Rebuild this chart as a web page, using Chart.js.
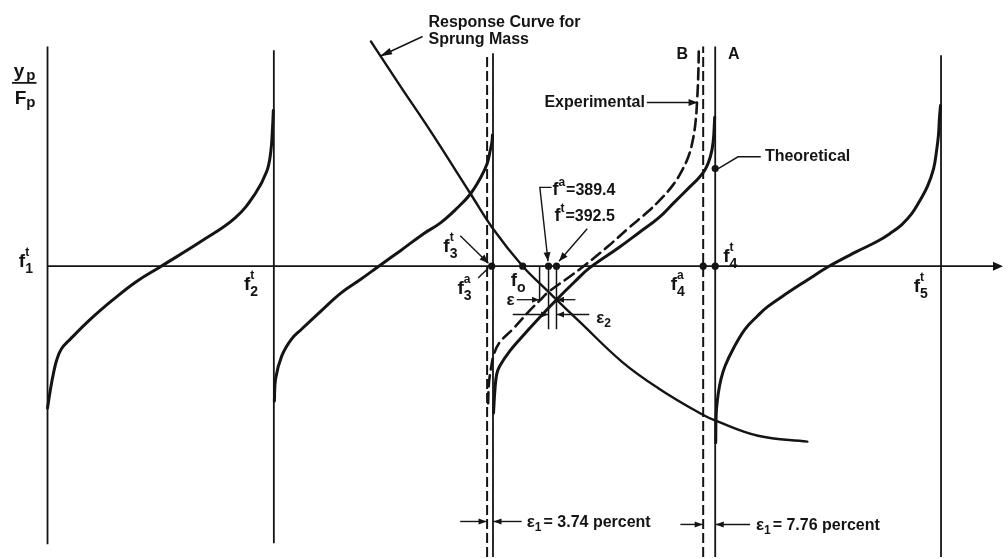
<!DOCTYPE html>
<html>
<head>
<meta charset="utf-8">
<script src="https://cdn.jsdelivr.net/npm/chart.js@4/dist/chart.umd.min.js"></script>
<style>
  html, body { margin: 0; padding: 0; background: #fff; }
  #wrap { width: 1008px; height: 559px; }
</style>
</head>
<body>
<div id="wrap"><canvas id="chart"></canvas></div>
<script>
var INK = '#141414';
var FONT = '"Liberation Sans", Arial, sans-serif';

// frequencies where the sprung-mass curve meets the two mode curves (Hz)
var fActual = 389.4;
var fTheory = 392.5;
var eps1Percent = [3.74, 7.76];

// response curves, [frequency Hz, y_p/F_p]
var mode1 = [[193.7,-2.88],[194.9,-2.48],[196.0,-2.18],[197.2,-1.92],[199.1,-1.68],[202.6,-1.48],[210.4,-1.08],[219.3,-0.68],[228.2,-0.32],[237.5,-0.02],[254.2,0.52],[267.0,0.98],[274.7,1.46],[279.3,1.92],[280.9,2.32],[281.6,2.82],[281.9,3.16]];
var mode2 = [[282.3,-2.74],[282.8,-2.28],[285.2,-1.82],[289.0,-1.48],[292.9,-1.28],[300.7,-0.9],[308.4,-0.54],[316.2,-0.26],[323.1,0],[331.7,0.32],[340.6,0.66],[347.2,0.88],[353.7,1.18],[358.8,1.46],[362.7,1.78],[365.4,2.08],[366.5,2.32],[367.3,2.52],[367.5,2.66]];
var theoretical = [[367.9,-2.98],[368.5,-2.48],[369.2,-2.18],[370.4,-2.02],[374.3,-1.72],[378.2,-1.48],[385.9,-1.04],[fTheory,-0.68],[399.5,-0.32],[405.3,-0.04],[416.9,0.38],[424.7,0.68],[432.4,0.98],[438.2,1.28],[444.0,1.58],[447.9,1.78],[450.6,1.96],[452.6,2.22],[453.7,2.52],[454.3,3.02]];
var experimental = [[365.8,-2.78],[366.1,-2.38],[366.9,-2.08],[368.1,-1.78],[370.4,-1.54],[375.4,-1.28],[382.0,-0.9],[385.9,-0.7],[fActual,-0.52],[396.4,-0.26],[404.1,0.04],[413.0,0.42],[420.8,0.78],[428.5,1.12],[433.6,1.38],[438.2,1.66],[441.3,1.92],[444.0,2.22],[445.6,2.52],[446.8,2.92],[447.5,3.42],[447.9,3.92],[448.1,4.42]];
var mode5 = [[454.7,-3.58],[454.9,-2.98],[455.7,-2.58],[456.8,-2.28],[458.4,-2.02],[461.5,-1.68],[466.1,-1.28],[471.2,-1.0],[475.0,-0.82],[482.8,-0.54],[490.5,-0.28],[498.3,-0.02],[509.9,0.3],[517.7,0.5],[522.7,0.66],[527.3,0.84],[531.2,1.06],[534.3,1.32],[537.4,1.62],[539.8,1.98],[540.9,2.32],[541.7,2.66],[542.1,3.02],[542.5,3.26]];
var sprungMass = [[320.0,4.56],[331.7,3.64],[343.3,2.74],[358.8,1.48],[367.7,0.76],[379.3,0],[fActual,-0.52],[fTheory,-0.68],[401.4,-1.12],[418.1,-1.94],[432.4,-2.48],[449.1,-3.0],[454.9,-3.14],[471.2,-3.44],[490.5,-3.56]];

// resonance lines f1..f5 (solid = theoretical, dashed = measured)
var solidLineX = [193.7, 282.1, 367.7, 454.5, 542.7];
var solidLineTop = [4.46, 4.38, 4.32, 4.46, 4.28];
var solidLineBottom = [-5.64, -5.62, -5.9, -5.9, -5.9];
var dashedLineX = [365.4, 449.8];
var dashedLineTop = [4.32, 4.46];

// drop lines below the crossing, and dots on the frequency axis
var dropX = [385.9, fActual, fTheory];
var dropDepth = [-0.7, -1.28, -1.28];
var axisDots = [367.2, 379.3, fActual, fTheory, 449.8, 454.5];
var axisStart = 193.7, axisEnd = 564.5;

function pts(list) {
	return list.map(function(p) { return {x: p[0], y: p[1]}; });
}

function curve(list, width, dash) {
	return {data: pts(list), showLine: true, borderColor: INK, borderWidth: width, borderDash: dash || [],
		pointRadius: 0, tension: 0.4, fill: false, clip: false, borderCapStyle: 'round', borderJoinStyle: 'round'};
}

function segment(x1, y1, x2, y2, width, dash) {
	return {data: [{x: x1, y: y1}, {x: x2, y: y2}], showLine: true, borderColor: INK, borderWidth: width,
		borderDash: dash || [], pointRadius: 0, tension: 0, fill: false, clip: false};
}

var datasets = [];
datasets.push(segment(axisStart, 0, axisEnd, 0, 1.8));
solidLineX.forEach(function(x, i) {
	datasets.push(segment(x, solidLineBottom[i], x, solidLineTop[i], 1.8));
});
dashedLineX.forEach(function(x, i) {
	datasets.push(segment(x, -5.9, x, dashedLineTop[i], 2, [10, 4]));
});
dropX.forEach(function(x, i) {
	datasets.push(segment(x, 0, x, dropDepth[i], 1.5));
});
datasets.push(curve(mode1, 3));
datasets.push(curve(mode2, 3));
datasets.push(curve(theoretical, 3));
datasets.push(curve(mode5, 3));
datasets.push(curve(experimental, 2.6, [11, 6]));
datasets.push(curve(sprungMass, 2.4));
datasets.push({data: axisDots.map(function(x) { return {x: x, y: 0}; }).concat([{x: 454.5, y: 1.98}]),
	showLine: false, pointRadius: 3.6, pointBackgroundColor: INK, pointBorderWidth: 0});

// drawing helpers, all in canvas pixels
function head(ctx, x1, y1, x2, y2, len, half) {
	var a = Math.atan2(y2 - y1, x2 - x1);
	ctx.beginPath();
	ctx.moveTo(x2, y2);
	ctx.lineTo(x2 - len * Math.cos(a) + half * Math.sin(a), y2 - len * Math.sin(a) - half * Math.cos(a));
	ctx.lineTo(x2 - len * Math.cos(a) - half * Math.sin(a), y2 - len * Math.sin(a) + half * Math.cos(a));
	ctx.closePath();
	ctx.fill();
}

function fLabel(ctx, x, y, sup, sub) {
	ctx.textBaseline = 'alphabetic';
	ctx.font = 'bold 19px ' + FONT;
	ctx.fillText('f', x, y);
	var w = ctx.measureText('f').width;
	if (sup) {
		ctx.font = 'bold 12px ' + FONT;
		ctx.fillText(sup, x + w, y - 11);
	}
	if (sub) {
		ctx.font = 'bold 14px ' + FONT;
		ctx.fillText(sub, x + w, y + 6);
	}
}

function epsLabel(ctx, x, y, sub, rest) {
	ctx.textBaseline = 'alphabetic';
	ctx.font = 'bold 17px ' + FONT;
	ctx.fillText('\u03b5', x, y);
	var w = ctx.measureText('\u03b5').width;
	ctx.font = 'bold 12px ' + FONT;
	if (sub) ctx.fillText(sub, x + w, y + 4);
	var sw = sub ? ctx.measureText(sub).width : 0;
	if (rest) {
		ctx.font = 'bold 16px ' + FONT;
		ctx.fillText(rest, x + w + sw + 2, y);
	}
}

var annotations = {
	id: 'annotations',
	afterDatasetsDraw: function(chart) {
		var ctx = chart.ctx;
		var sx = function(v) { return chart.scales.x.getPixelForValue(v); };
		var sy = function(v) { return chart.scales.y.getPixelForValue(v); };

		function leader(list, arrow, width, len, half) {
			ctx.beginPath();
			ctx.lineWidth = width || 1.4;
			list.forEach(function(p, i) {
				if (i == 0) ctx.moveTo(sx(p[0]), sy(p[1]));
				else ctx.lineTo(sx(p[0]), sy(p[1]));
			});
			ctx.stroke();
			if (arrow) {
				var a = list[list.length - 2], b = list[list.length - 1];
				head(ctx, sx(a[0]), sy(a[1]), sx(b[0]), sy(b[1]), len || 9, half || 3.5);
			}
		}

		ctx.save();
		ctx.fillStyle = INK;
		ctx.strokeStyle = INK;
		ctx.setLineDash([]);

		// arrow on the frequency axis
		head(ctx, sx(axisEnd - 2), sy(0), sx(566.9), sy(0), 10, 4.5);

		// y_p / F_p
		ctx.textBaseline = 'alphabetic';
		ctx.font = 'bold 19px ' + FONT;
		ctx.fillText('y', sx(180.5), sy(3.84));
		ctx.fillText('F', sx(180.9), sy(3.30));
		ctx.font = 'bold 15px ' + FONT;
		ctx.fillText('p', sx(185.4), sy(3.78));
		ctx.fillText('p', sx(185.4), sy(3.24));
		leader([[179.8, 3.72], [189.4, 3.72]], false, 1.8);

		// frequency labels
		fLabel(ctx, sx(182.5), sy(-0.02), 't', '1');
		fLabel(ctx, sx(270.4), sy(-0.48), 't', '2');
		fLabel(ctx, sx(348.3), sy(0.28), 't', '3');
		fLabel(ctx, sx(353.8), sy(-0.56), 'a', '3');
		fLabel(ctx, sx(374.6), sy(-0.4), null, 'o');
		fLabel(ctx, sx(437.1), sy(-0.48), 'a', '4');
		fLabel(ctx, sx(457.6), sy(0.08), 't', '4');
		fLabel(ctx, sx(532.0), sy(-0.52), 't', '5');

		leader([[354.9, 0.62], [365.9, 0.06]], true, 1.4);
		leader([[361.9, -0.24], [365.8, -0.04]], false, 1.4);

		// f^a and f^t values
		[[fActual, 1.44, 'a'], [fTheory, 0.92, 't']].forEach(function(r, i) {
			var x = sx(i == 0 ? 390.9 : 391.7), y = sy(r[1]);
			ctx.textBaseline = 'alphabetic';
			ctx.font = 'bold 18px ' + FONT;
			ctx.fillText('f', x, y);
			var w = ctx.measureText('f').width;
			ctx.font = 'bold 12px ' + FONT;
			ctx.fillText(r[2], x + w, y - 9);
			var sw = ctx.measureText(r[2]).width;
			ctx.font = 'bold 16px ' + FONT;
			ctx.fillText('=' + r[0].toFixed(1), x + w + sw + 1, y);
		});
		leader([[390.6, 1.6], [386.0, 1.6], [fActual - 0.2, 0.1]], true, 1.4);
		leader([[404.5, 0.76], [fTheory + 1.0, 0.1]], true, 1.4);

		// epsilon marks round the crossing
		epsLabel(ctx, sx(373.0), sy(-0.78), null, null);
		leader([[377.0, -0.68], [385.7, -0.68]], true, 1.3, 7, 3);
		leader([[399.9, -0.68], [fTheory + 0.2, -0.68]], true, 1.3, 7, 3);
		leader([[375.4, -0.98], [fActual - 0.2, -0.98]], true, 1.3, 7, 3);
		leader([[405.3, -0.98], [fTheory + 0.2, -0.98]], true, 1.3, 7, 3);
		epsLabel(ctx, sx(408.0), sy(-1.16), '2', null);

		// curve names
		ctx.textBaseline = 'middle';
		ctx.font = 'bold 16px ' + FONT;
		ctx.fillText('Response Curve for', sx(342.5), sy(4.94));
		ctx.fillText('Sprung Mass', sx(342.5), sy(4.6));
		ctx.fillText('Experimental', sx(387.8), sy(3.32));
		ctx.fillText('Theoretical', sx(473.9), sy(2.22));
		ctx.fillText('B', sx(439.4), sy(4.3));
		ctx.fillText('A', sx(459.5), sy(4.3));
		leader([[340.2, 4.66], [323.6, 4.26]], true, 1.5, 12, 3.5);
		leader([[427.8, 3.32], [447.6, 3.32]], true, 1.4, 9, 3.5);
		leader([[472.3, 2.22], [463.4, 2.22], [455.7, 1.98]], false, 1.4);

		// spacing between measured and theoretical lines
		leader([[354.9, -5.18], [365.2, -5.18]], true, 1.4, 8, 3);
		leader([[378.9, -5.18], [367.9, -5.18]], true, 1.4, 8, 3);
		epsLabel(ctx, sx(380.9), sy(-5.3), '1', '= ' + eps1Percent[0].toFixed(2) + ' percent');
		leader([[440.9, -5.24], [449.6, -5.24]], true, 1.4, 8, 3);
		leader([[468.1, -5.24], [454.7, -5.24]], true, 1.4, 8, 3);
		epsLabel(ctx, sx(470.4), sy(-5.36), '1', '= ' + eps1Percent[1].toFixed(2) + ' percent');

		ctx.restore();
	}
};

var chart = new Chart(document.getElementById('chart'), {
	type: 'scatter',
	data: {datasets: datasets},
	options: {
		responsive: true,
		maintainAspectRatio: false,
		animation: false,
		devicePixelRatio: 1,
		events: [],
		layout: {padding: 0},
		plugins: {legend: {display: false}, tooltip: {enabled: false}},
		scales: {
			x: {type: 'linear', min: 176.7, max: 567.3, display: false},
			y: {type: 'linear', min: -5.86, max: 5.32, display: false}
		}
	},
	plugins: [annotations]
});
</script>
</body>
</html>
